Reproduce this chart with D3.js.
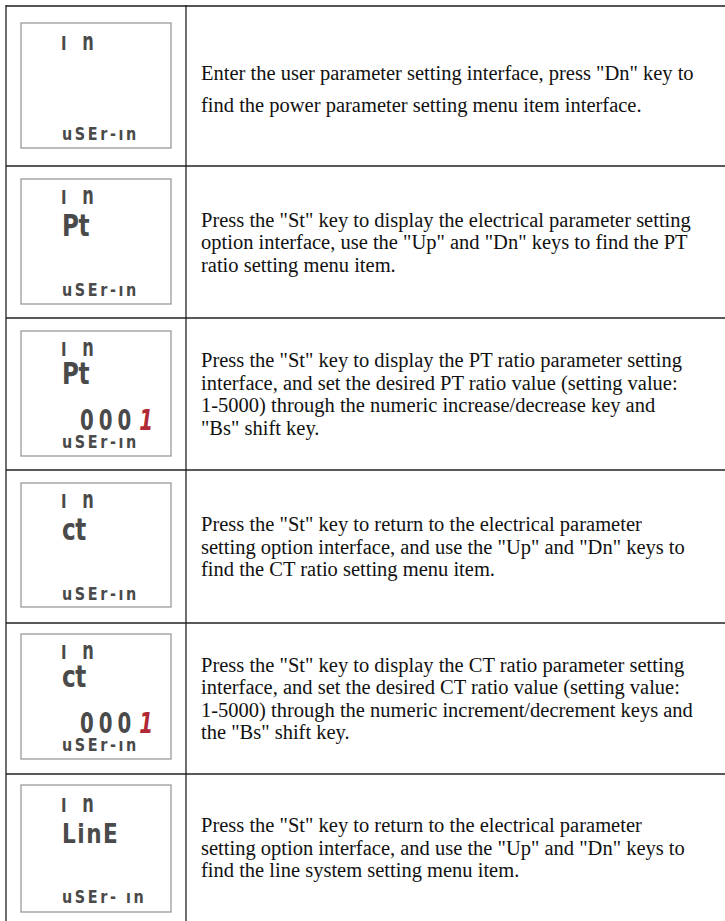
<!DOCTYPE html>
<html><head><meta charset="utf-8">
<script src="https://cdn.jsdelivr.net/npm/d3@7"></script>
<style>html,body{margin:0;padding:0;background:#fff;}svg{display:block;}</style>
</head><body>
<svg id="c" width="725" height="921"></svg>
<script>
// ---- data ----
const steps = ["step1","step2","step3","step4","step5","step6"];
const lcdTop = ["ı n","ı n","ı n","ı n","ı n","ı n"];
const lcdMid = ["","Pt","Pt","ct","ct","LinE"];
const lcdNum = ["","","000","","000",""];
const lcdNumActive = ["","","1","","1",""];
const lcdBottom = ["uSEr-ın","uSEr-ın","uSEr-ın","uSEr-ın","uSEr-ın","uSEr- ın"];
const descriptions = [
 ["Enter the user parameter setting interface, press \"Dn\" key to","find the power parameter setting menu item interface."],
 ["Press the \"St\" key to display the electrical parameter setting","option interface, use the \"Up\" and \"Dn\" keys to find the PT","ratio setting menu item."],
 ["Press the \"St\" key to display the PT ratio parameter setting","interface, and set the desired PT ratio value (setting value:","1-5000) through the numeric increase/decrease key and","\"Bs\" shift key."],
 ["Press the \"St\" key to return to the electrical parameter","setting option interface, and use the \"Up\" and \"Dn\" keys to","find the CT ratio setting menu item."],
 ["Press the \"St\" key to display the CT ratio parameter setting","interface, and set the desired CT ratio value (setting value:","1-5000) through the numeric increment/decrement keys and","the \"Bs\" shift key."],
 ["Press the \"St\" key to return to the electrical parameter","setting option interface, and use the \"Up\" and \"Dn\" keys to","find the line system setting menu item."]
];
// ---- layout ----
const rowEdges = [6,166,318,470,623,774,921];
const boxTop = [17,13,13,13,11,11];
const boxH = [125,125,125,124,125,127];
const lineSpacing = [32,22.5,22.5,22.5,22.5,22.5];
const textShift = [3,0,0,0,0,0];
const xLeft = 6, xDiv = 186, xRight = 725;
const svg = d3.select("#c");
const idx = d => steps.indexOf(d);

const rows = svg.selectAll("g.row").data(steps).join("g").attr("class","row")
  .attr("transform",(d,i)=>`translate(0,${rowEdges[i]})`);

// LCD box
rows.append("rect").attr("x",21).attr("y",d=>boxTop[idx(d)])
  .attr("width",150).attr("height",d=>boxH[idx(d)])
  .attr("fill","#fff").attr("stroke","#9a9a9a").attr("stroke-width",1.3);

const lcdFont = "'DejaVu Sans Condensed','DejaVu Sans',sans-serif";
const lcdCol = "#4a4a4a";
function lcdText(arr, x, relY, size, sx, sy, ls){
  rows.filter(d=>arr[idx(d)]!=="").append("text")
    .attr("transform",d=>`translate(${x},${boxTop[idx(d)]+relY(idx(d))}) scale(${sx},${sy})`)
    .attr("font-family",lcdFont).attr("font-weight","bold").attr("font-size",size)
    .attr("fill",lcdCol).attr("letter-spacing",ls).text(d=>arr[idx(d)]);
}
lcdText(lcdTop, 61, i=>i===5?27:(i===0?27:25), 18, 1, 1.4, 5);
lcdText(lcdMid.map((t,i)=>i<5?t:""), 62, i=>(i===2||i===4)?53:57, 27, 0.95, 1.1, -0.5);
lcdText(lcdMid.map((t,i)=>i===5?t:""), 62, i=>58, 24, 1, 1.1, 1.5);
lcdText(lcdBottom, 62, i=>i===5?118:117, 16, 1, 1.05, 2.6);

// numeric value (last digit active, red)
const num = rows.filter(d=>lcdNum[idx(d)]!=="").append("text")
  .attr("transform",d=>`translate(80,${boxTop[idx(d)]+99}) scale(1,1.3)`)
  .attr("font-family",lcdFont).attr("font-weight","bold").attr("font-size",22)
  .attr("fill",lcdCol).attr("letter-spacing",5);
num.append("tspan").text(d=>lcdNum[idx(d)]);
num.append("tspan").text(d=>lcdNumActive[idx(d)]).attr("fill","#b02a36")
  .attr("font-style","italic").attr("dx",3);

// description text
rows.each(function(d,i){
  const g = d3.select(this);
  const lines = descriptions[i];
  const h = rowEdges[i+1]-rowEdges[i];
  const ls = lineSpacing[i];
  const start = h/2 - (lines.length-1)*ls/2 + 7 + textShift[i];
  g.append("text").attr("font-family","'Liberation Serif','Times New Roman',serif")
   .attr("font-size",20.5).attr("fill","#111")
   .selectAll("tspan").data(lines).join("tspan")
   .attr("x",201).attr("y",(l,k)=>start+k*ls).text(l=>l);
});

// grid lines
svg.append("line").attr("x1",xLeft).attr("x2",xRight).attr("y1",6).attr("y2",6)
  .attr("stroke","#555").attr("stroke-width",2);
svg.selectAll("line.h").data(rowEdges.slice(1,-1)).join("line").attr("class","h")
  .attr("x1",xLeft).attr("x2",xRight).attr("y1",d=>d).attr("y2",d=>d)
  .attr("stroke","#222").attr("stroke-width",1.3);
[xLeft,xDiv].forEach(x=>svg.append("line").attr("x1",x).attr("x2",x).attr("y1",5).attr("y2",921)
  .attr("stroke","#222").attr("stroke-width",1.3));
</script>
</body></html>
